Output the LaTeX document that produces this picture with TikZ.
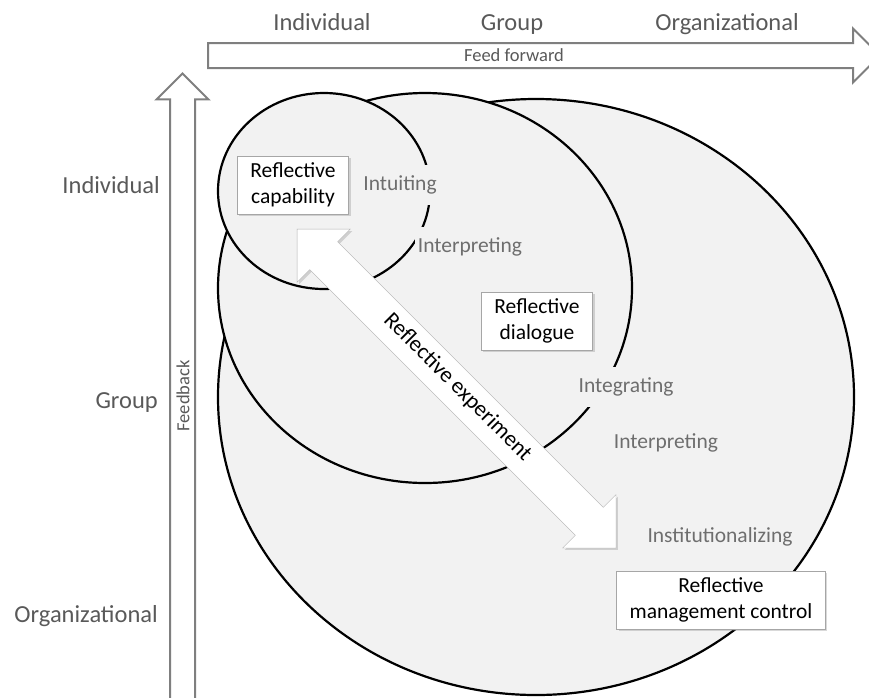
\documentclass[tikz,border=0pt]{standalone}
\usepackage{fontspec}
\setmainfont{Carlito}
\usetikzlibrary{shapes.arrows,shadows}
\definecolor{bubblefill}{HTML}{F2F2F2}
\definecolor{axisgray}{HTML}{7F7F7F}
\definecolor{levelgray}{HTML}{595959}
\definecolor{stagegray}{HTML}{6E6E6E}

\begin{document}
\begin{tikzpicture}[x=1pt,y=-1pt,
  level/.style={inner sep=0pt,text=levelgray,font=\fontsize{24.5}{28}\selectfont},
  stage/.style={fill=bubblefill,inner sep=3pt,minimum height=40pt,text=stagegray,
    font=\fontsize{21.5}{24}\selectfont},
  bubble/.style={draw=black,line width=2.2pt,fill=bubblefill},
  flow/.style={single arrow,single arrow tip angle=90,draw=axisgray,line width=2pt,
    fill=white,inner xsep=0pt,inner ysep=11.5pt,text height=0pt,text depth=0pt},
  flowtext/.style={text=levelgray,font=\fontsize{18.5}{20}\selectfont},
  reflect/.style={draw=black!35,fill=white,align=center,inner xsep=13pt,inner ysep=7pt,
    font=\fontsize{21.5}{26}\selectfont,
    drop shadow={opacity=0.3,shadow xshift=2pt,shadow yshift=-2pt}}]

  \path [use as bounding box,clip] (0,0) rectangle (869,697);

  \draw [bubble] (536,397) ellipse [x radius=318, y radius=298];
  \draw [bubble] (425,288) ellipse [x radius=207, y radius=195];
  \draw [bubble] (324,191) ellipse [x radius=106, y radius=98];

  \node [stage] (intuit) at (400,185) {Intuiting};
  \node [stage] (interpi) at (470,247) {Interpreting};
  \node [stage] (integr) at (626,387) {Integrating};
  \node [stage] (interpg) at (666,443) {Interpreting};
  \node [stage] (instit) at (720,537) {Institutionalizing};

  \node [reflect] (capab) at (293,185) {Reflective\\capability};
  \node [reflect] (dialog) at (537,321) {Reflective\\dialogue};
  \node [reflect] (mgmt) at (721,600) {Reflective\\management control};

  \node [double arrow,double arrow head extend=18pt,draw=black!30,fill=white,
    minimum height=451pt,inner xsep=2pt,inner ysep=10pt,text height=14pt,text depth=5pt,
    rotate=-45,font=\fontsize{22.5}{24}\selectfont,
    drop shadow={opacity=0.3,shadow xshift=2pt,shadow yshift=-2pt}]
    (experim) at (456.5,388.5) {Reflective experiment};

  \node [flow,single arrow head extend=14.5pt,anchor=tail,minimum height=672pt]
    (ffarrow) at (207,55.5) {};
  \node [flowtext] (fftext) at (514,55) {Feed forward};
  \node [flow,single arrow head extend=13.5pt,rotate=90,anchor=tip,minimum height=650pt]
    (fbarrow) at (182.5,72) {};
  \node [flowtext,rotate=90] (fbtext) at (183,396) {Feedback};

  \node [level,anchor=base] (topind) at (322,30) {Individual};
  \node [level,anchor=base] (topgrp) at (512,30) {Group};
  \node [level,anchor=base] (toporg) at (727,30) {Organizational};
  \node [level,anchor=base east] (leftind) at (160,193) {Individual};
  \node [level,anchor=base east] (leftgrp) at (158,408) {Group};
  \node [level,anchor=base east] (leftorg) at (158,622) {Organizational};

\end{tikzpicture}
\end{document}
